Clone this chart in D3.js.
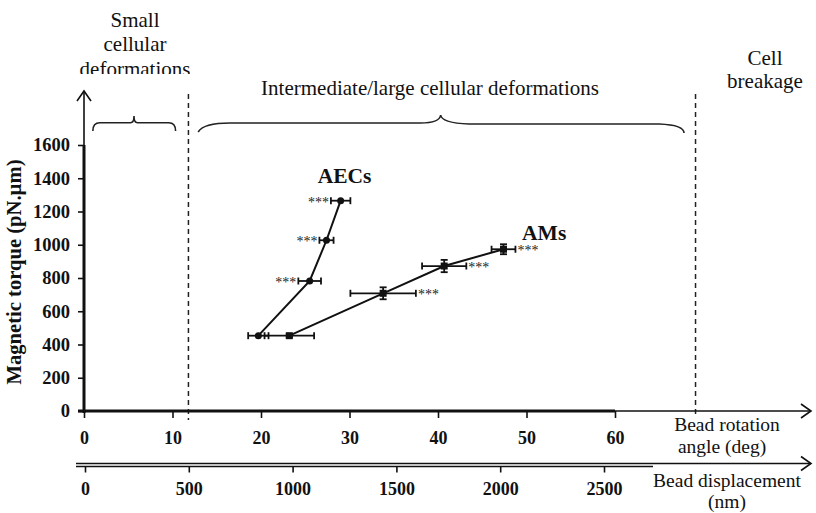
<!DOCTYPE html>
<html><head><meta charset="utf-8">
<script src="https://cdn.jsdelivr.net/npm/d3@7"></script>
<style>body{margin:0;background:#fff}svg{display:block}text{font-family:"Liberation Serif","Times New Roman",serif;fill:#111}</style>
</head><body>
<svg id="c" width="816" height="513"></svg>
<script>
// Data
const angleTicks = [0,10,20,30,40,50,60];
const dispTicks = [0,500,1000,1500,2000,2500];
const torqueTicks = [0,200,400,600,800,1000,1200,1400,1600];
const aecAngle = [19.7, 25.5, 27.4, 29.0];
const aecAngleErr = [1.15, 1.28, 0.8, 1.1];
const aecTorque = [453, 782, 1027, 1265];
const aecTorqueErr = [8, 8, 8, 8];
const amAngle = [23.2, 33.8, 40.7, 47.4];
const amAngleErr = [2.8, 3.7, 2.5, 1.35];
const amTorque = [453, 708, 872, 973];
const amTorqueErr = [10, 36, 37, 30];
const aecStars = ["", "***", "***", "***"];
const amStars = ["", "***", "***", "***"];
const zoneBounds = [11.8, 69.1];

const SERIF = "'Liberation Serif','Times New Roman',serif";
const svg = d3.select("#c");
const x = d3.scaleLinear().domain([0,60]).range([84,615]);
const xd = d3.scaleLinear().domain([0,2500]).range([85,604]);
const y = d3.scaleLinear().domain([0,1600]).range([411,145]);
const y0 = y(0);

function styleAxis(g, size){
  g.attr("font-family", SERIF).attr("font-size", size);
  g.select(".domain").remove();
  g.selectAll("line").attr("stroke","#111").attr("stroke-width",1.6);
  g.selectAll("text").style("font-family",SERIF).style("font-size",size+"px").style("font-weight","bold").attr("fill","#111");
}

// Top annotations
const tg = svg.append("g").style("font-size","21px");
[["Small",27],["cellular",51],["deformations",76]].forEach(([t,b])=>
  tg.append("text").attr("x",135).attr("y",b).attr("text-anchor","middle").text(t));
svg.append("rect").attr("x",60).attr("y",74).attr("width",170).attr("height",12).attr("fill","#fff");
tg.append("text").attr("x",430).attr("y",95).attr("text-anchor","middle").text("Intermediate/large cellular deformations");
[["Cell",65],["breakage",88]].forEach(([t,b])=>
  tg.append("text").attr("x",765).attr("y",b).attr("text-anchor","middle").text(t));

// Dashed zone lines
zoneBounds.forEach((v,i)=>{
  svg.append("line").attr("x1",x(v)).attr("x2",x(v)).attr("y1",94).attr("y2",i==0?420:418)
    .attr("stroke","#222").attr("stroke-width",1.5).attr("stroke-dasharray","5,4");
});

// Braces
function brace(xa, xb, xm, ytop, ybot, r){
  const ym = ytop + (ybot-ytop)*0.45;
  return `M${xa},${ybot} Q${xa},${ym} ${xa+r},${ym} L${xm-r*0.5},${ym} Q${xm},${ym} ${xm},${ytop} Q${xm},${ym} ${xm+r*0.5},${ym} L${xb-r},${ym} Q${xb},${ym} ${xb},${ybot}`;
}
svg.append("path").attr("d",brace(x(1.0),x(10.35),x(5.65),116,131,7))
  .attr("fill","none").attr("stroke","#222").attr("stroke-width",1.6);
svg.append("path").attr("d",`M${x(12.9)},132 Q${x(13.5)},123 ${x(16.5)},123 L${x(38)},123 Q${x(40.2)},123 ${x(40.3)},115 Q${x(40.4)},123 ${x(43.5)},124 L${x(65)},124 Q${x(67.8)},125 ${x(67.8)},133`)
  .attr("fill","none").attr("stroke","#222").attr("stroke-width",1.6);

// Y axis
svg.append("line").attr("x1",84).attr("x2",84).attr("y1",y0+2).attr("y2",y(1600)).attr("stroke","#111").attr("stroke-width",3);
svg.append("line").attr("x1",84).attr("x2",84).attr("y1",y(1600)).attr("y2",92).attr("stroke","#111").attr("stroke-width",1.6);
svg.append("path").attr("d","M77,101 L84,91 L91,101").attr("fill","none").attr("stroke","#111").attr("stroke-width",1.6);
const ya = svg.append("g").attr("transform","translate(84,0)")
  .call(d3.axisLeft(y).tickValues(torqueTicks).tickFormat(d3.format("d")).tickSize(6).tickPadding(8));
styleAxis(ya, 18.5);
svg.append("text").attr("transform","translate(21,272) rotate(-90)").attr("text-anchor","middle")
  .attr("textLength",225).attr("lengthAdjust","spacingAndGlyphs")
  .style("font-size","20px").style("font-weight","bold").text("Magnetic torque (pN.µm)");

// X axis (angle)
svg.append("line").attr("x1",78).attr("x2",x(60)).attr("y1",y0).attr("y2",y0).attr("stroke","#111").attr("stroke-width",3);
svg.append("line").attr("x1",x(60)).attr("x2",811).attr("y1",y0).attr("y2",y0).attr("stroke","#111").attr("stroke-width",1.6);
svg.append("path").attr("d",`M801,${y0-7} L811,${y0} L801,${y0+7}`).attr("fill","none").attr("stroke","#111").attr("stroke-width",1.6);
const xa = svg.append("g").attr("transform",`translate(0,${y0})`)
  .call(d3.axisBottom(x).tickValues(angleTicks).tickFormat(d3.format("d")).tickSize(7).tickPadding(13));
styleAxis(xa, 18);
[["Bead rotation",431,727],["angle (deg)",453,722]].forEach(([t,b,cx])=>
  svg.append("text").attr("x",cx).attr("y",b).attr("text-anchor","middle").style("font-size","19.5px").text(t));

// X axis (displacement)
const yd = 466.5;
svg.append("line").attr("x1",76).attr("x2",653).attr("y1",yd-3).attr("y2",yd-3).attr("stroke","#111").attr("stroke-width",1.5);
svg.append("line").attr("x1",76).attr("x2",653).attr("y1",yd).attr("y2",yd).attr("stroke","#111").attr("stroke-width",1.5);
svg.append("line").attr("x1",653).attr("x2",811).attr("y1",yd-3).attr("y2",yd-3).attr("stroke","#111").attr("stroke-width",1.5);
svg.append("path").attr("d",`M801,${yd-10} L811,${yd-3} L801,${yd+4}`).attr("fill","none").attr("stroke","#111").attr("stroke-width",1.6);
const xda = svg.append("g").attr("transform",`translate(0,${yd})`)
  .call(d3.axisBottom(xd).tickValues(dispTicks).tickFormat(d3.format("d")).tickSize(6).tickPadding(10));
styleAxis(xda, 18);
[["Bead displacement",487],["(nm)",508]].forEach(([t,b])=>
  svg.append("text").attr("x",727).attr("y",b).attr("text-anchor","middle").style("font-size","19.5px").text(t));

// Series
function series(ang, angErr, tq, tqErr, stars, side, marker){
  const pts = ang.map((a,i)=>({a, ae:angErr[i], t:tq[i], te:tqErr[i], s:stars[i]}));
  const g = svg.append("g");
  g.append("path").datum(pts).attr("d",d3.line().x(d=>x(d.a)).y(d=>y(d.t)))
    .attr("fill","none").attr("stroke","#111").attr("stroke-width",2);
  pts.forEach(d=>{
    const cx=x(d.a), cy=y(d.t), xl=x(d.a-d.ae), xr=x(d.a+d.ae);
    g.append("line").attr("x1",xl).attr("x2",xr).attr("y1",cy).attr("y2",cy).attr("stroke","#111").attr("stroke-width",1.8);
    [xl,xr].forEach(xx=>g.append("line").attr("x1",xx).attr("x2",xx).attr("y1",cy-3.5).attr("y2",cy+3.5).attr("stroke","#111").attr("stroke-width",1.8));
    const yt=y(d.t+d.te), yb=y(d.t-d.te);
    if (yb-yt>3){
      g.append("line").attr("x1",cx).attr("x2",cx).attr("y1",yt).attr("y2",yb).attr("stroke","#111").attr("stroke-width",1.8);
      [yt,yb].forEach(yy=>g.append("line").attr("x1",cx-3.5).attr("x2",cx+3.5).attr("y1",yy).attr("y2",yy).attr("stroke","#111").attr("stroke-width",1.8));
    }
    if (marker==="circle") g.append("circle").attr("cx",cx).attr("cy",cy).attr("r",3.5).attr("fill","#111");
    else g.append("rect").attr("x",cx-3.5).attr("y",cy-3.5).attr("width",7).attr("height",7).attr("fill","#111");
    if (d.s){
      const tx = side==="left" ? xl-2 : xr+2;
      g.append("text").attr("x",tx).attr("y",cy+6).attr("text-anchor",side==="left"?"end":"start")
        .style("font-size","14px").style("fill","#222").text(d.s);
    }
  });
}
series(aecAngle, aecAngleErr, aecTorque, aecTorqueErr, aecStars, "left", "circle");
series(amAngle, amAngleErr, amTorque, amTorqueErr, amStars, "right", "square");

svg.append("text").attr("x",x(26.4)).attr("y",y(1372)).style("font-size","21.5px").style("font-weight","bold").text("AECs");
svg.append("text").attr("x",x(49.5)).attr("y",y(1030)).style("font-size","21.5px").style("font-weight","bold").text("AMs");
</script>
</body></html>
